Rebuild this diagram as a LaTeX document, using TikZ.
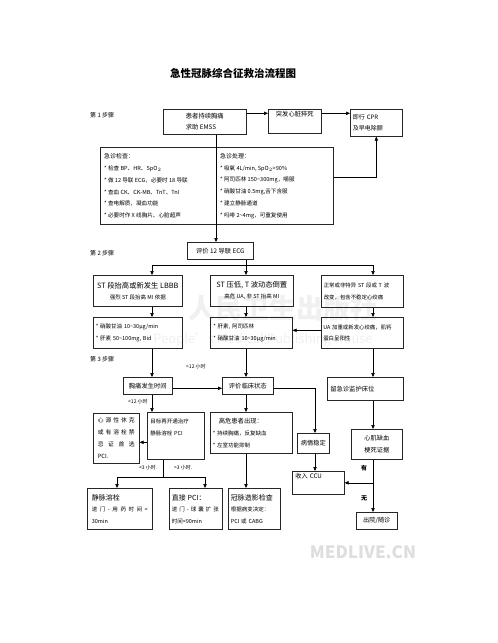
\documentclass[tikz,border=0pt]{standalone}
\usepackage{fontspec}
\setmainfont{Noto Sans CJK SC}
\usetikzlibrary{arrows.meta}
\newcommand{\fs}[1]{\fontsize{#1}{11.5}\selectfont}
\newcommand{\jl}[2]{\makebox[#1][s]{#2}}
\newcommand{\bul}{{*}\ }
\begin{document}
\begin{tikzpicture}[x=1pt,y=-1pt,
  box/.style={draw=black!85, line width=0.6pt, anchor=north west, inner sep=0pt, font=\fs{6}},
  lbox/.style={box, align=left},
  arr/.style={-{Triangle[length=4pt,width=3.4pt]}, line width=0.6pt},
  ln/.style={line width=0.6pt},
  lbl/.style={font=\fontsize{5}{6}\selectfont, inner sep=0pt, anchor=west},
  steplbl/.style={font=\fontsize{6}{7}\selectfont, inner sep=0pt, anchor=west},
  wm/.style={text=black!6, inner sep=0pt}]
\useasboundingbox (0,0) rectangle (498,643);
\fill[white] (0,0) rectangle (498,643);
% watermarks
\node[wm, font=\fontsize{27}{30}\selectfont\bfseries] (wm1) at (283,308) {人民卫生出版社};
\node[wm, font=\fontsize{13}{15}\selectfont] (wm2) at (263,340) {People's Medical Publishing House};
\node[inner sep=0pt, text=black!13, font=\fontsize{17}{18}\selectfont\bfseries] (wm3) at (363,552) {MEDLIVE.CN};
% title
\node[inner sep=0pt, font=\fontsize{10.5}{12}\selectfont\bfseries] (title) at (233,73) {急性冠脉综合征救治流程图};
% step labels
\node[steplbl] (st1) at (90,115) {第 1 步骤};
\node[steplbl] (st2) at (90,253) {第 2 步骤};
\node[steplbl] (st3) at (90,359) {第 3 步骤};
% column coordinates
\coordinate (cA) at (152,0);
\coordinate (cB) at (246,0);
\coordinate (cC) at (373,0);
\coordinate (cD) at (315,0);
\coordinate (cE) at (216,0);
\coordinate (cF) at (163,0);
\coordinate (cH1) at (117,0);
\coordinate (cH2) at (205,0);
\coordinate (s2) at (0,265);
\coordinate (s3) at (0,477);
% step 1
\node[box, align=left, minimum width=83pt, minimum height=25pt, font=\fs{6.3}] (A) at (163,109) {患者持续胸痛\\求助 EMSS};
\node[box, minimum width=53pt, text height=5pt, text depth=15pt, inner ysep=2pt, font=\fs{6.3}] (B) at (268,109) {突发心脏猝死};
\node[lbox, minimum width=52pt, minimum height=27pt, text width=47pt, inner xsep=2.5pt, font=\fs{6}] (C) at (350,109) {即行 CPR\\及早电除颤};
\node[box, line width=0.8pt, minimum width=233pt, minimum height=77pt] (exam) at (100,147) {};
\node[inner sep=0pt, anchor=west, align=left, font=\fontsize{5.6}{11.8}\selectfont] (examL) at ([shift={(4,0)}]exam.west)
 {\fs{6}急诊检查：\\
  \bul 检查 BP、HR、SpO$_2$\\
  \bul 做 12 导联 ECG，必要时 18 导联\\
  \bul 查血 CK、CK-MB、TnT、TnI\\
  \bul 查电解质，凝血功能\\
  \bul 必要时作 X 线胸片、心脏超声};
\node[inner sep=0pt, anchor=west, align=left, font=\fontsize{5.6}{11.8}\selectfont] (examR) at ([shift={(120,0)}]exam.west)
 {\fs{6}急诊处理：\\
  \bul 吸氧 4L/min, SpO$_2$>90\%\\
  \bul 阿司匹林 150\textasciitilde 300mg，嚼服\\
  \bul 硝酸甘油 0.5mg,舌下含服\\
  \bul 建立静脉通道\\
  \bul 吗啡 2\textasciitilde 4mg，可重复使用};
% step 2
\node[box, minimum width=66pt, minimum height=17pt, font=\fs{6.3}] (ecg) at (187,242) {评价 12 导联 ECG};
\node[box, align=center, minimum width=89pt, minimum height=31pt, font=\fontsize{7.3}{11}\selectfont] (D1) at (93,275) {ST 段抬高或新发生 LBBB\\{\fs{5.5}强烈 ST 段抬高 MI 依据}};
\node[box, align=center, minimum width=83pt, minimum height=31pt, font=\fontsize{7.3}{11}\selectfont] (D2) at (210,275) {ST 压低, T 波动态倒置\\{\fs{5.5}高危 UA, 非 ST 抬高 MI}};
\node[lbox, minimum width=82pt, minimum height=32pt, text width=77pt, inner xsep=2.5pt, font=\fontsize{5.4}{11.5}\selectfont] (D3) at (321,275) {正常或非特异 ST 段或 T 波\\改变，包含不稳定心绞痛};
\node[lbox, minimum width=89pt, minimum height=31pt, text width=84pt, inner xsep=2.5pt, font=\fontsize{5.5}{11.5}\selectfont] (E1) at (93,317) {\bul 硝酸甘油 10\textasciitilde 30μg/min\\\bul 肝素 50\textasciitilde 100mg, Bid};
\node[lbox, minimum width=82pt, minimum height=31pt, text width=76pt, inner xsep=3pt, font=\fontsize{5.5}{11.5}\selectfont] (E2) at (210,317) {\bul 肝素, 阿司匹林\\\bul 硝酸甘油 10\textasciitilde 30μg/min};
\node[lbox, minimum width=82pt, minimum height=31pt, text width=78pt, inner xsep=2pt, font=\fontsize{5.4}{11.5}\selectfont] (E3) at (321,317) {UA 加重或新发心绞痛，肌钙\\蛋白呈阳性};
% step 3
\node[box, minimum width=49pt, minimum height=17pt, font=\fs{6.3}] (F1) at (123,377) {胸痛发生时间};
\node[box, minimum width=51pt, minimum height=17pt, font=\fs{6.3}] (F2) at (222,377) {评价临床状态};
\node[lbox, minimum width=76pt, minimum height=23pt, text width=70pt, inner xsep=3pt, font=\fs{6.3}] (F3) at (327,377) {留急诊监护床位};
\node[lbox, minimum width=46pt, minimum height=50pt, text width=37pt, inner xsep=4.5pt, font=\fontsize{5.8}{12}\selectfont] (G1) at (93,413)
 {\jl{37pt}{心\hfill 源\hfill 性\hfill 休\hfill 克}\\\jl{37pt}{或\hfill 有\hfill 溶\hfill 栓\hfill 禁}\\\jl{37pt}{忌\hfill 证\hfill 首\hfill 选}\\PCI.};
\node[lbox, minimum width=57pt, minimum height=47pt, text width=51pt, inner xsep=3pt, font=\fontsize{5.5}{12.5}\selectfont] (G2) at (147,412) {目标再开通治疗\\静脉溶栓 PCI\\[5pt]\mbox{}};
\node[lbox, minimum width=82pt, minimum height=41pt, text width=77pt, inner xsep=2.5pt, font=\fontsize{5.5}{11.8}\selectfont] (G3) at (210,412) {\hspace*{6pt}{\fs{6.3}高危患者出现：}\\\bul 持续胸痛，反复缺血\\\bul 左室功能抑制};
\node[lbox, minimum width=65pt, minimum height=41pt, text width=56pt, inner xsep=4.5pt, font=\fontsize{5.5}{11.5}\selectfont] (H1) at (87,488) {{\fs{7}静脉溶栓}\\\jl{56pt}{进\hfill 门\hfill -\hfill 用\hfill 药\hfill 时\hfill 间\hfill <}\\30min};
\node[lbox, minimum width=53pt, minimum height=41pt, text width=48pt, inner xsep=2.5pt, font=\fontsize{5.5}{11.5}\selectfont] (H2) at (169,488) {{\fs{7}直接 PCI：}\\\jl{47pt}{进\hfill 门\hfill -\hfill 球\hfill 囊\hfill 扩\hfill 张}\\时间<90min};
\node[lbox, minimum width=52pt, minimum height=41pt, text width=47pt, inner xsep=2.5pt, font=\fontsize{5.5}{11.5}\selectfont] (H3) at (228,488) {{\fs{7}冠脉造影检查}\\根据病变决定：\\PCI 或 CABG};
\node[box, minimum width=32pt, minimum height=20pt, font=\fs{6.2}] (stable) at (297,433) {病情稳定};
\node[lbox, minimum width=52pt, text width=46pt, inner xsep=3pt, text height=5pt, text depth=14pt, inner ysep=2pt, font=\fs{6.2}] (ccu) at (292,471) {收入 CCU};
\node[box, align=center, minimum width=51pt, minimum height=30pt, font=\fs{6.2}] (evid) at (351,429) {心肌缺血\\梗死证据};
\node[box, minimum width=41pt, minimum height=17pt, font=\fs{6.2}] (dis) at (356,512) {出院/随诊};
% labels
\node[lbl] (l1) at (186,367) {>12 小时};
\node[lbl] (l2) at (128,402) {<12 小时};
\node[lbl] (l3) at (139,468) {<3 小时.};
\node[lbl] (l4) at (174,468) {>3 小时.};
\node[lbl, font=\fontsize{6}{7}\selectfont\bfseries] (yes) at (361,468) {有};
\node[lbl, font=\fontsize{6}{7}\selectfont\bfseries] (no) at (361,498) {无};
% connectors step 1
\draw[arr] ([shift={(0,-8.5)}]A.east) -- ([shift={(0,-8.5)}]A.east -| B.west);
\draw[arr] ([shift={(0,-8)}]B.east) -- ([shift={(0,-8)}]B.east -| C.west);
\draw[arr] (A.south -| cE) -- (ecg.north -| cE);
\draw[arr] ([shift={(0,-8.5)}]exam.east) -| (C.south);
% step 2
\draw[ln] (s2 -| cA) -- (s2 -| cC);
\draw[arr] (s2 -| cA) -- (D1.north -| cA);
\draw[arr] (ecg.south -| cB) -- (D2.north -| cB);
\draw[arr] (s2 -| cC) -- (D3.north -| cC);
\draw[arr] (D1.south -| cA) -- (E1.north -| cA);
\draw[arr] (D2.south -| cB) -- (E2.north -| cB);
\draw[arr] (D3.south -| cC) -- (E3.north -| cC);
\draw[arr] ([shift={(0,-2.5)}]E3.west) -- ([shift={(0,-2.5)}]E3.west -| E2.east);
% step 3
\draw[arr] (E1.south -| cA) -- (F1.north -| cA);
\draw[arr] (E2.south -| cB) -- (F2.north -| cB);
\draw[arr] (E3.south -| cC) -- (F3.north -| cC);
\draw[arr] ([shift={(0,2.5)}]F1.east) -- ([shift={(0,2.5)}]F1.east -| F2.west);
\draw[arr] ([shift={(0,2.5)}]F2.east) -| (stable.north -| cD);
\draw[arr] (F1.south -| cA) -- (G2.north -| cA);
\draw[arr] (F2.south -| cB) -- (G3.north -| cB);
\draw[arr] (F3.south -| cC) -- (evid.north -| cC);
\draw[arr] ([shift={(0,6.5)}]G2.west) -- ([shift={(0,6.5)}]G2.west -| G1.east);
\draw[ln] (G2.south -| cF) -- (s3 -| cF);
\draw[ln] (s3 -| cH1) -- (s3 -| cH2);
\draw[arr] (s3 -| cH1) -- (H1.north -| cH1);
\draw[arr] (s3 -| cH2) -- (H2.north -| cH2);
\draw[arr] (G3.south -| cB) -- (H3.north -| cB);
\draw[arr] (stable.south -| cD) -- (ccu.north -| cD);
\draw[arr] (evid.south -| cC) -- (dis.north -| cC);
\draw[arr] (ccu.east -| cC) -- (ccu.east);
\end{tikzpicture}
\end{document}
